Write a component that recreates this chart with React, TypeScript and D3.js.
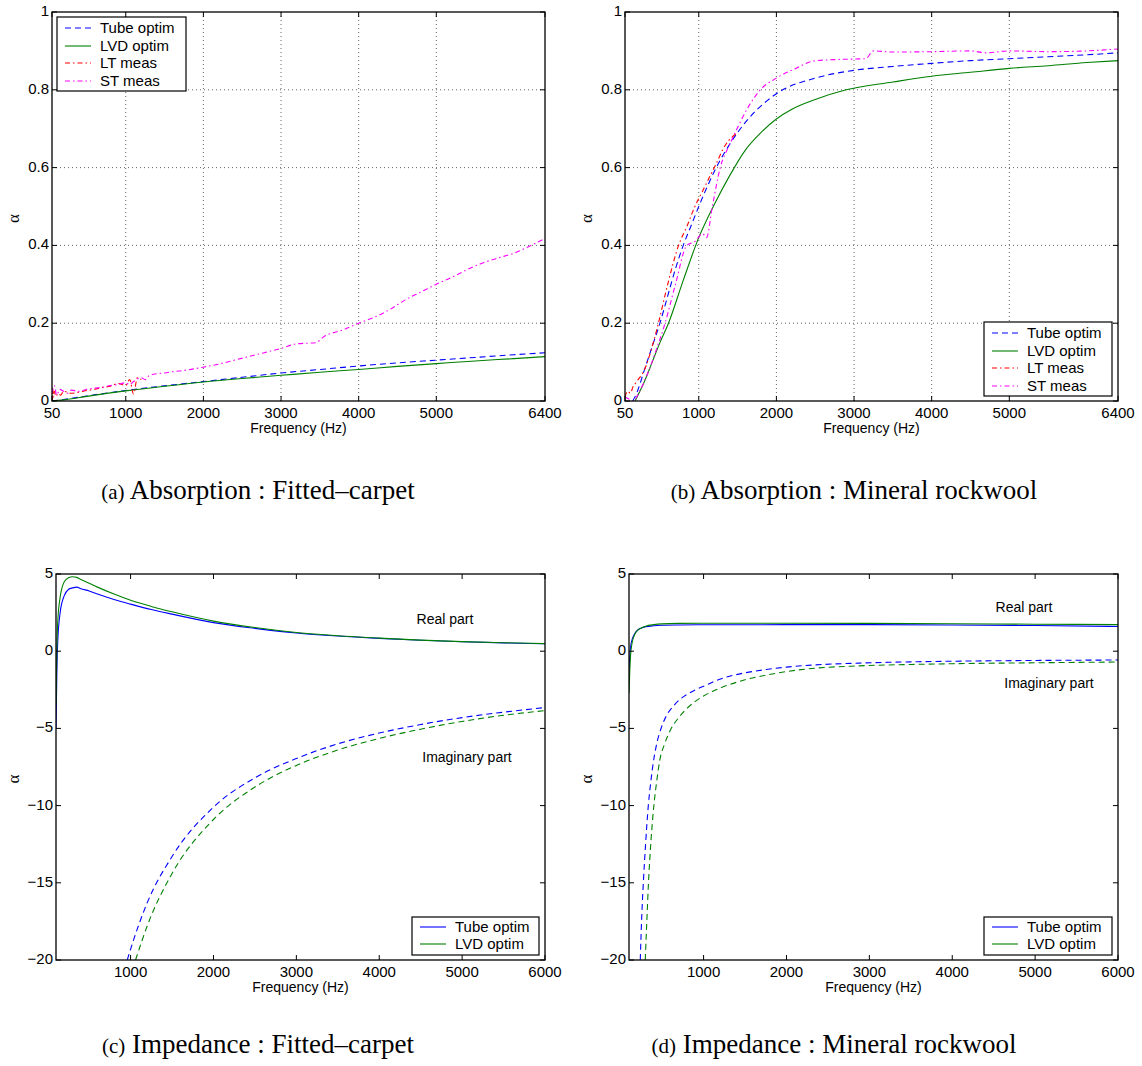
import React from 'react';
import * as d3 from 'd3';

// ---------------- tick labels ----------------
const absTicksX = [50, 1000, 2000, 3000, 4000, 5000, 6400];
const absTicksY = [0, 0.2, 0.4, 0.6, 0.8, 1];
const impTicksX = [1000, 2000, 3000, 4000, 5000, 6000];
const impTicksY = [-20, -15, -10, -5, 0, 5];

// ---------------- (a) Absorption : Fitted–carpet ----------------
const aTubeF = [50, 200, 500, 1000, 1500, 2000, 2500, 3000, 3500, 4000, 4500, 5000, 5500, 6000, 6400];
const aTubeV = [0, 0.004, 0.013, 0.027, 0.039, 0.050, 0.061, 0.072, 0.081, 0.090, 0.098, 0.105, 0.112, 0.119, 0.124];
const aLvdF = [50, 200, 500, 1000, 1500, 2000, 2500, 3000, 3500, 4000, 4500, 5000, 5500, 6000, 6400];
const aLvdV = [0, 0.003, 0.012, 0.026, 0.038, 0.049, 0.058, 0.066, 0.074, 0.081, 0.089, 0.096, 0.103, 0.109, 0.114];
const aLtF = [50, 55, 60, 70, 80, 100, 130, 160, 200, 300, 400, 500, 600, 700, 800, 900, 1000, 1050, 1100, 1150, 1200];
const aLtV = [0.035, 0.0, 0.03, 0.01, 0.025, 0.012, 0.02, 0.015, 0.025, 0.02, 0.023, 0.027, 0.03, 0.035, 0.038, 0.045, 0.04, 0.055, 0.018, 0.06, 0.055];
const aStF = [50, 80, 110, 150, 200, 250, 300, 400, 500, 600, 700, 800, 900, 1000, 1050, 1100, 1200, 1250, 1300, 1400, 1500, 1600, 1800, 2000, 2200, 2400, 2600, 2800, 3000, 3200, 3450, 3550, 3800, 4000, 4200, 4400, 4600, 4800, 5000, 5200, 5400, 5600, 5800, 6000, 6200, 6400];
const aStV = [0.02, 0.04, 0.015, 0.03, 0.025, 0.02, 0.028, 0.025, 0.03, 0.033, 0.035, 0.04, 0.042, 0.047, 0.042, 0.05, 0.06, 0.055, 0.065, 0.07, 0.072, 0.075, 0.08, 0.087, 0.095, 0.105, 0.115, 0.125, 0.135, 0.147, 0.15, 0.165, 0.183, 0.2, 0.215, 0.235, 0.26, 0.28, 0.3, 0.318, 0.338, 0.355, 0.368, 0.38, 0.398, 0.418];

// ---------------- (b) Absorption : Mineral rockwool ----------------
const bTubeF = [150, 200, 300, 400, 500, 600, 700, 800, 900, 1000, 1200, 1500, 2000, 2500, 3000, 3500, 4000, 4500, 5000, 5500, 6000, 6400];
const bTubeV = [0, 0.02, 0.08, 0.14, 0.2, 0.27, 0.34, 0.4, 0.45, 0.5, 0.59, 0.69, 0.79, 0.83, 0.85, 0.86, 0.868, 0.875, 0.88, 0.885, 0.89, 0.895];
const bLvdF = [180, 300, 400, 500, 610, 800, 1000, 1200, 1400, 1600, 1800, 2000, 2200, 2500, 2900, 3500, 4000, 4500, 5000, 5500, 6000, 6400];
const bLvdV = [0, 0.05, 0.1, 0.15, 0.2, 0.31, 0.42, 0.505, 0.58, 0.645, 0.69, 0.725, 0.75, 0.775, 0.8, 0.82, 0.835, 0.845, 0.855, 0.862, 0.87, 0.875];
const bLtF = [50, 80, 120, 150, 200, 300, 400, 480, 600, 740, 850, 950, 1050, 1200, 1350, 1500];
const bLtV = [0.01, 0.025, 0.02, 0.035, 0.05, 0.08, 0.14, 0.2, 0.3, 0.4, 0.45, 0.5, 0.54, 0.6, 0.66, 0.69];
const bStF = [50, 100, 150, 250, 350, 450, 566, 700, 846, 950, 1050, 1100, 1175, 1277, 1400, 1493, 1650, 1794, 2000, 2250, 2478, 2800, 3150, 3250, 3500, 4000, 4500, 4700, 5000, 5500, 6000, 6400];
const bStV = [0.01, 0.005, 0.0, 0.03, 0.075, 0.13, 0.2, 0.3, 0.4, 0.41, 0.43, 0.42, 0.5, 0.6, 0.66, 0.7, 0.76, 0.8, 0.83, 0.855, 0.874, 0.878, 0.88, 0.9, 0.897, 0.898, 0.9, 0.895, 0.9, 0.898, 0.9, 0.905];

// ---------------- (c) Impedance : Fitted–carpet ----------------
const cRealF = [100, 110, 120, 150, 200, 250, 300, 350, 400, 500, 600, 800, 1000, 1250, 1500, 2000, 2500, 3000, 3500, 4000, 4500, 5000, 5500, 6000];
const cTubeReal = [-5, -1.5, 0.5, 2.5, 3.6, 4.0, 4.1, 4.15, 4.05, 3.9, 3.7, 3.35, 3.05, 2.7, 2.4, 1.85, 1.48, 1.18, 0.98, 0.83, 0.71, 0.61, 0.54, 0.48];
const cLvdReal = [-3.4, 0, 1.8, 3.5, 4.5, 4.75, 4.82, 4.78, 4.65, 4.4, 4.15, 3.7, 3.3, 2.9, 2.55, 1.95, 1.53, 1.21, 1.0, 0.85, 0.72, 0.62, 0.55, 0.49];
const cTubeImagF = [960, 1000, 1200, 1500, 2000, 2500, 3000, 3500, 4000, 4500, 5000, 5500, 6000];
const cTubeImag = [-20, -19.3, -16.3, -13.3, -10.1, -8.2, -6.95, -6.0, -5.3, -4.75, -4.3, -3.95, -3.65];
const cLvdImagF = [1060, 1200, 1500, 2000, 2500, 3000, 3500, 4000, 4500, 5000, 5500, 6000];
const cLvdImag = [-20, -17.8, -14.4, -10.9, -8.8, -7.4, -6.4, -5.65, -5.05, -4.55, -4.15, -3.85];

// ---------------- (d) Impedance : Mineral rockwool ----------------
const dRealF = [100, 110, 120, 140, 170, 200, 250, 300, 400, 500, 700, 1000, 2000, 3000, 4000, 5000, 6000];
const dTubeReal = [-1.5, -0.3, 0.3, 0.8, 1.15, 1.35, 1.5, 1.58, 1.65, 1.68, 1.7, 1.71, 1.72, 1.72, 1.7, 1.66, 1.6];
const dLvdReal = [-2.7, -1.2, -0.2, 0.6, 1.1, 1.33, 1.5, 1.62, 1.72, 1.77, 1.8, 1.81, 1.81, 1.8, 1.78, 1.75, 1.72];
const dTubeImagF = [236, 255, 273, 300, 333, 360, 388, 430, 490, 560, 636, 720, 800, 900, 1000, 1150, 1315, 1500, 1755, 2000, 2310, 2875, 3500, 4000, 5000, 6000];
const dTubeImag = [-20, -17, -15, -12.5, -10, -8.6, -7.4, -6.1, -4.95, -4.1, -3.55, -3.1, -2.8, -2.5, -2.27, -1.9, -1.62, -1.4, -1.19, -1.03, -0.9, -0.77, -0.69, -0.65, -0.6, -0.57];
const dLvdImagF = [296, 315, 335, 365, 400, 435, 470, 530, 600, 700, 800, 900, 1000, 1150, 1315, 1500, 1755, 2000, 2310, 2875, 3500, 4000, 5000, 6000];
const dLvdImag = [-20, -17.5, -15, -12.3, -10, -8.4, -7.1, -6.0, -5.1, -4.3, -3.7, -3.25, -2.9, -2.5, -2.16, -1.85, -1.55, -1.32, -1.12, -0.95, -0.86, -0.81, -0.75, -0.7];

// ---------------- styles ----------------
const BLUE = '#0000ff';
const GREEN = '#008000';
const RED = '#ff0000';
const MAGENTA = '#ff00ff';
const DASH = '6,4';
const DASHDOT = '5,3,1.5,3';
const SANS = '"Liberation Sans", Arial, Helvetica, sans-serif';
const SERIF = '"Liberation Serif", "Times New Roman", serif';

type Series = { f: number[]; v: number[]; color: string; dash?: string };
type LegendItem = { label: string; color: string; dash?: string };

type PanelCfg = {
  id: string;
  left: number; right: number; top: number; bottom: number;
  alphaX: number;
  xDomain: [number, number];
  yDomain: [number, number];
  xTicks: number[];
  yTicks: number[];
  grid: boolean;
  series: Series[];
  legend: LegendItem[];
  legendBox: { x: number; y: number; w: number; h: number; rowY: number[] };
  notes: { text: string; x: number; y: number }[];
  caption: { tag: string; text: string; cx: number; y: number };
  fmt: (v: number) => string;
};

const fmtAbs = (v: number) => (v === 0 ? '0' : v === 1 ? '1' : d3.format('.1f')(v));
const fmtImp = (v: number) => (v < 0 ? '\u2212' + Math.abs(v) : String(v));

const absLegend: LegendItem[] = [
  { label: 'Tube optim', color: BLUE, dash: DASH },
  { label: 'LVD optim', color: GREEN },
  { label: 'LT meas', color: RED, dash: DASHDOT },
  { label: 'ST meas', color: MAGENTA, dash: DASHDOT },
];
const impLegend: LegendItem[] = [
  { label: 'Tube optim', color: BLUE },
  { label: 'LVD optim', color: GREEN },
];

const panels: PanelCfg[] = [
  {
    id: 'a', left: 52, right: 545, top: 12, bottom: 401, alphaX: 14,
    xDomain: [50, 6400], yDomain: [0, 1], xTicks: absTicksX, yTicks: absTicksY, grid: true,
    series: [
      { f: aTubeF, v: aTubeV, color: BLUE, dash: DASH },
      { f: aLvdF, v: aLvdV, color: GREEN },
      { f: aLtF, v: aLtV, color: RED, dash: DASHDOT },
      { f: aStF, v: aStV, color: MAGENTA, dash: DASHDOT },
    ],
    legend: absLegend,
    legendBox: { x: 57, y: 17, w: 129, h: 74, rowY: [28, 46, 63, 81] },
    notes: [],
    caption: { tag: '(a)', text: ' Absorption : Fitted\u2013carpet', cx: 258, y: 499 },
    fmt: fmtAbs,
  },
  {
    id: 'b', left: 625, right: 1118, top: 12, bottom: 401, alphaX: 587,
    xDomain: [50, 6400], yDomain: [0, 1], xTicks: absTicksX, yTicks: absTicksY, grid: true,
    series: [
      { f: bTubeF, v: bTubeV, color: BLUE, dash: DASH },
      { f: bLvdF, v: bLvdV, color: GREEN },
      { f: bLtF, v: bLtV, color: RED, dash: DASHDOT },
      { f: bStF, v: bStV, color: MAGENTA, dash: DASHDOT },
    ],
    legend: absLegend,
    legendBox: { x: 984, y: 322, w: 128, h: 74, rowY: [333, 351, 368, 386] },
    notes: [],
    caption: { tag: '(b)', text: ' Absorption : Mineral rockwool', cx: 854, y: 499 },
    fmt: fmtAbs,
  },
  {
    id: 'c', left: 56, right: 545, top: 574, bottom: 960, alphaX: 14,
    xDomain: [100, 6000], yDomain: [-20, 5], xTicks: impTicksX, yTicks: impTicksY, grid: false,
    series: [
      { f: cRealF, v: cTubeReal, color: BLUE },
      { f: cRealF, v: cLvdReal, color: GREEN },
      { f: cTubeImagF, v: cTubeImag, color: BLUE, dash: DASH },
      { f: cLvdImagF, v: cLvdImag, color: GREEN, dash: DASH },
    ],
    legend: impLegend,
    legendBox: { x: 412, y: 917, w: 127, h: 38, rowY: [927, 944] },
    notes: [
      { text: 'Real part', x: 445, y: 619 },
      { text: 'Imaginary part', x: 467, y: 757 },
    ],
    caption: { tag: '(c)', text: ' Impedance : Fitted\u2013carpet', cx: 258, y: 1053 },
    fmt: fmtImp,
  },
  {
    id: 'd', left: 629, right: 1118, top: 574, bottom: 960, alphaX: 587,
    xDomain: [100, 6000], yDomain: [-20, 5], xTicks: impTicksX, yTicks: impTicksY, grid: false,
    series: [
      { f: dRealF, v: dTubeReal, color: BLUE },
      { f: dRealF, v: dLvdReal, color: GREEN },
      { f: dTubeImagF, v: dTubeImag, color: BLUE, dash: DASH },
      { f: dLvdImagF, v: dLvdImag, color: GREEN, dash: DASH },
    ],
    legend: impLegend,
    legendBox: { x: 984, y: 917, w: 128, h: 38, rowY: [927, 944] },
    notes: [
      { text: 'Real part', x: 1024, y: 607 },
      { text: 'Imaginary part', x: 1049, y: 683 },
    ],
    caption: { tag: '(d)', text: ' Impedance : Mineral rockwool', cx: 834, y: 1053 },
    fmt: fmtImp,
  },
];

function Panel({ cfg }: { cfg: PanelCfg }) {
  const x = d3.scaleLinear().domain(cfg.xDomain).range([cfg.left, cfg.right]);
  const y = d3.scaleLinear().domain(cfg.yDomain).range([cfg.bottom, cfg.top]);
  const line = d3.line<[number, number]>().x((d) => x(d[0])).y((d) => y(d[1])).curve(d3.curveMonotoneX);
  const T = 5;
  const clipId = 'clip-' + cfg.id;
  const lb = cfg.legendBox;
  const innerX = cfg.xTicks.filter((t) => t > cfg.xDomain[0] && t < cfg.xDomain[1]);
  const innerY = cfg.yTicks.filter((t) => t > cfg.yDomain[0] && t < cfg.yDomain[1]);
  return (
    <g>
      <defs>
        <clipPath id={clipId}>
          <rect x={cfg.left} y={cfg.top} width={cfg.right - cfg.left} height={cfg.bottom - cfg.top} />
        </clipPath>
      </defs>
      {cfg.grid && (
        <g stroke="#666" strokeWidth={1} strokeDasharray="1,3">
          {innerX.map((t) => (
            <line key={'gx' + t} x1={x(t)} x2={x(t)} y1={cfg.top} y2={cfg.bottom} />
          ))}
          {innerY.map((t) => (
            <line key={'gy' + t} x1={cfg.left} x2={cfg.right} y1={y(t)} y2={y(t)} />
          ))}
        </g>
      )}
      <g clipPath={`url(#${clipId})`} fill="none">
        {cfg.series.map((s, i) => (
          <path
            key={i}
            d={line(s.f.map((f, j) => [f, s.v[j]] as [number, number])) || ''}
            stroke={s.color}
            strokeWidth={1.1}
            strokeDasharray={s.dash}
          />
        ))}
      </g>
      <g stroke="#000" strokeWidth={1}>
        {cfg.xTicks.map((t) => (
          <g key={'tx' + t}>
            <line x1={x(t)} x2={x(t)} y1={cfg.bottom} y2={cfg.bottom - T} />
            <line x1={x(t)} x2={x(t)} y1={cfg.top} y2={cfg.top + T} />
          </g>
        ))}
        {cfg.yTicks.map((t) => (
          <g key={'ty' + t}>
            <line x1={cfg.left} x2={cfg.left + T} y1={y(t)} y2={y(t)} />
            <line x1={cfg.right} x2={cfg.right - T} y1={y(t)} y2={y(t)} />
          </g>
        ))}
      </g>
      <rect x={cfg.left} y={cfg.top} width={cfg.right - cfg.left} height={cfg.bottom - cfg.top} fill="none" stroke="#000" strokeWidth={1.3} />
      <g fontFamily={SANS} fontSize={15} fill="#000">
        {cfg.xTicks.map((t) => (
          <text key={'lx' + t} x={x(t)} y={cfg.bottom + 17} textAnchor="middle">
            {String(t)}
          </text>
        ))}
        {cfg.yTicks.map((t) => (
          <text key={'ly' + t} x={cfg.left - 3} y={y(t) + 4} textAnchor="end">
            {cfg.fmt(t)}
          </text>
        ))}
      </g>
      <text x={(cfg.left + cfg.right) / 2} y={cfg.bottom + 32} textAnchor="middle" fontFamily={SANS} fontSize={14}>
        Frequency (Hz)
      </text>
      <text
        transform={`translate(${cfg.alphaX + 5},${(cfg.top + cfg.bottom) / 2 + 12}) rotate(-90)`}
        textAnchor="middle"
        fontFamily={SERIF}
        fontSize={17}
      >
        α
      </text>
      {cfg.notes.map((n) => (
        <text key={n.text} x={n.x} y={n.y + 5} textAnchor="middle" fontFamily={SANS} fontSize={14}>
          {n.text}
        </text>
      ))}
      <g>
        <rect x={lb.x} y={lb.y} width={lb.w} height={lb.h} fill="#fff" stroke="#000" strokeWidth={1.2} />
        {cfg.legend.map((it, i) => (
          <g key={it.label}>
            <line x1={lb.x + 8} x2={lb.x + 34} y1={lb.rowY[i]} y2={lb.rowY[i]} stroke={it.color} strokeWidth={1.1} strokeDasharray={it.dash} />
            <text x={lb.x + 43} y={lb.rowY[i] + 5} fontFamily={SANS} fontSize={15}>
              {it.label}
            </text>
          </g>
        ))}
      </g>
      <text x={cfg.caption.cx} y={cfg.caption.y} textAnchor="middle" fontFamily={SERIF}>
        <tspan fontSize={21}>{cfg.caption.tag}</tspan>
        <tspan fontSize={27}>{cfg.caption.text}</tspan>
      </text>
    </g>
  );
}

export default function App() {
  return (
    <svg
      width={1142}
      height={1066}
      viewBox="0 0 1142 1066"
      style={{ position: 'absolute', left: 0, top: 0, background: '#fff' }}
    >
      <rect width={1142} height={1066} fill="#fff" />
      {panels.map((p) => (
        <Panel key={p.id} cfg={p} />
      ))}
    </svg>
  );
}
